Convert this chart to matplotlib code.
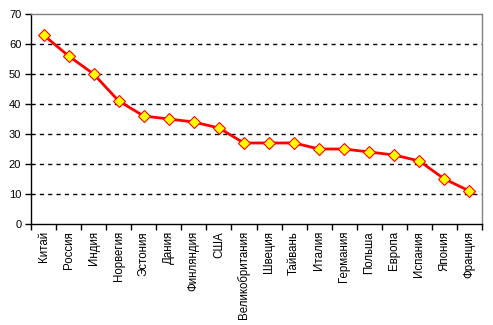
import matplotlib
matplotlib.use('Agg')
import matplotlib.pyplot as plt
import numpy as np

countries = ['Китай', 'Россия', 'Индия', 'Норвегия', 'Эстония', 'Дания', 'Финляндия',
             'США', 'Великобритания', 'Швеция', 'Тайвань', 'Италия', 'Германия',
             'Польша', 'Европа', 'Испания', 'Япония', 'Франция']
values = [63, 56, 50, 41, 36, 35, 34, 32, 27, 27, 27, 25, 25, 24, 23, 21, 15, 11]
yticks = [0, 10, 20, 30, 40, 50, 60, 70]

plt.rcParams['font.family'] = ['Liberation Sans', 'DejaVu Sans']

fig = plt.figure(figsize=(4.93, 3.25), dpi=100)
ax = fig.add_axes([31/493, 1 - 224/325, (482 - 31)/493, (224 - 14)/325])

x = np.arange(len(countries))
ax.plot(x, values, color='#ff0000', lw=2, marker='D', ms=6,
        mfc='#ffff00', mec='#ff0000', mew=0.8, zorder=3)

ax.set_xlim(-0.5, len(countries) - 0.5)
ax.set_ylim(0, 70)
ax.set_yticks(yticks)
ax.set_yticklabels([str(v) for v in yticks], fontsize=8)
ax.set_xticks(x)
ax.set_xticklabels(countries, rotation=90, fontsize=8.3)
ax.tick_params(axis='x', length=0, pad=5)
ax.set_xticks(np.arange(len(countries) + 1) - 0.5, minor=True)
ax.tick_params(axis='x', which='minor', length=4, width=1, color='black', direction='out')
ax.tick_params(axis='y', length=4, width=1, direction='out', pad=3)

for v in yticks[1:-1]:
    ax.axhline(v, color='black', lw=1, ls=(0, (3, 3)), zorder=1)

ax.spines['left'].set_color('black')
ax.spines['bottom'].set_color('black')
ax.spines['top'].set_color('#808080')
ax.spines['right'].set_color('#808080')
for s in ax.spines.values():
    s.set_linewidth(1)

fig.savefig('out.png', dpi=100)
